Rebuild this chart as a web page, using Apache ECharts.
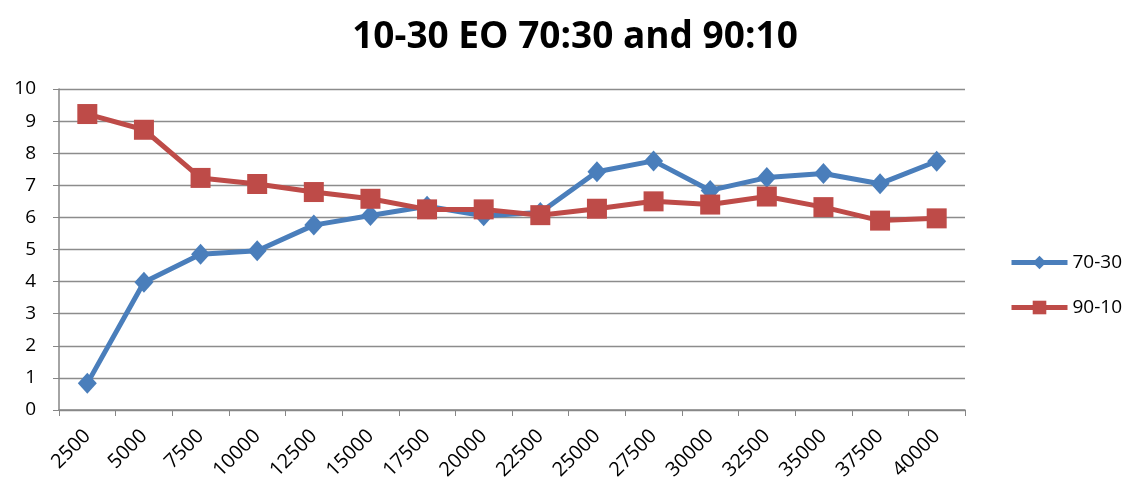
<!DOCTYPE html>
<html>
<head>
<meta charset="utf-8">
<script src="https://cdn.jsdelivr.net/npm/echarts@6/dist/echarts.min.js"></script>
<style>
html,body{margin:0;padding:0;background:#fff;}
#c{width:1125px;height:483px;}
</style>
</head>
<body>
<div id="c"></div>
<script>
const categories = ['2500','5000','7500','10000','12500','15000','17500','20000','22500','25000','27500','30000','32500','35000','37500','40000'];
const series7030 = [0.83, 3.98, 4.85, 4.96, 5.76, 6.06, 6.35, 6.05, 6.15, 7.42, 7.76, 6.84, 7.24, 7.37, 7.05, 7.75];
const series9010 = [9.22, 8.73, 7.23, 7.04, 6.79, 6.58, 6.25, 6.25, 6.07, 6.27, 6.50, 6.40, 6.65, 6.32, 5.90, 5.97];
const yTicks = [0, 10, 1];

const font = 'Open Sans, Liberation Sans, sans-serif';
const chart = echarts.init(document.getElementById('c'));
chart.setOption({
  animation: false,
  backgroundColor: '#fff',
  title: {
    text: '10-30 EO 70:30 and 90:10',
    left: 570, textAlign: 'center', top: 14,
    textStyle: {fontFamily: font, fontSize: 37, fontWeight: 'bold', color: '#000'}
  },
  legend: {
    orient: 'vertical', left: 1004, top: 248, itemGap: 26,
    itemWidth: 56, itemHeight: 17,
    textStyle: {fontFamily: font, fontSize: 19, color: '#000', padding: [0, 0, 0, 0]},
    data: [
      {name: '70-30', itemStyle: {color: '#4A7EBB'}, lineStyle: {width: 5, color: '#4A7EBB'}},
      {name: '90-10', itemStyle: {color: '#BE4B48'}, lineStyle: {width: 5, color: '#BE4B48'}}
    ]
  },
  grid: {left: 59, right: 160, top: 89, bottom: 73, containLabel: false, outerBoundsMode: 'none'},
  xAxis: {
    type: 'category', data: categories, boundaryGap: true,
    axisLine: {lineStyle: {color: '#868686', width: 1.5}},
    axisTick: {show: true, length: 6, lineStyle: {color: '#868686'}},
    axisLabel: {rotate: 45, fontFamily: font, fontSize: 20, color: '#000', margin: 23, interval: 0}
  },
  yAxis: {
    type: 'value', min: yTicks[0], max: yTicks[1], interval: yTicks[2],
    axisLine: {show: true, lineStyle: {color: '#868686', width: 1.5}},
    axisTick: {show: true, length: 6, lineStyle: {color: '#868686'}},
    splitLine: {lineStyle: {color: '#8c8c8c', width: 1.3}},
    axisLabel: {fontFamily: font, fontSize: 19, color: '#000', margin: 23}
  },
  series: [
    {name: '70-30', type: 'line', data: series7030, symbol: 'diamond', symbolSize: [19, 21],
     lineStyle: {color: '#4A7EBB', width: 5}, itemStyle: {color: '#4A7EBB'}, z: 2},
    {name: '90-10', type: 'line', data: series9010, symbol: 'rect', symbolSize: 20,
     lineStyle: {color: '#BE4B48', width: 5}, itemStyle: {color: '#BE4B48'}, z: 3}
  ]
});
</script>
</body>
</html>
